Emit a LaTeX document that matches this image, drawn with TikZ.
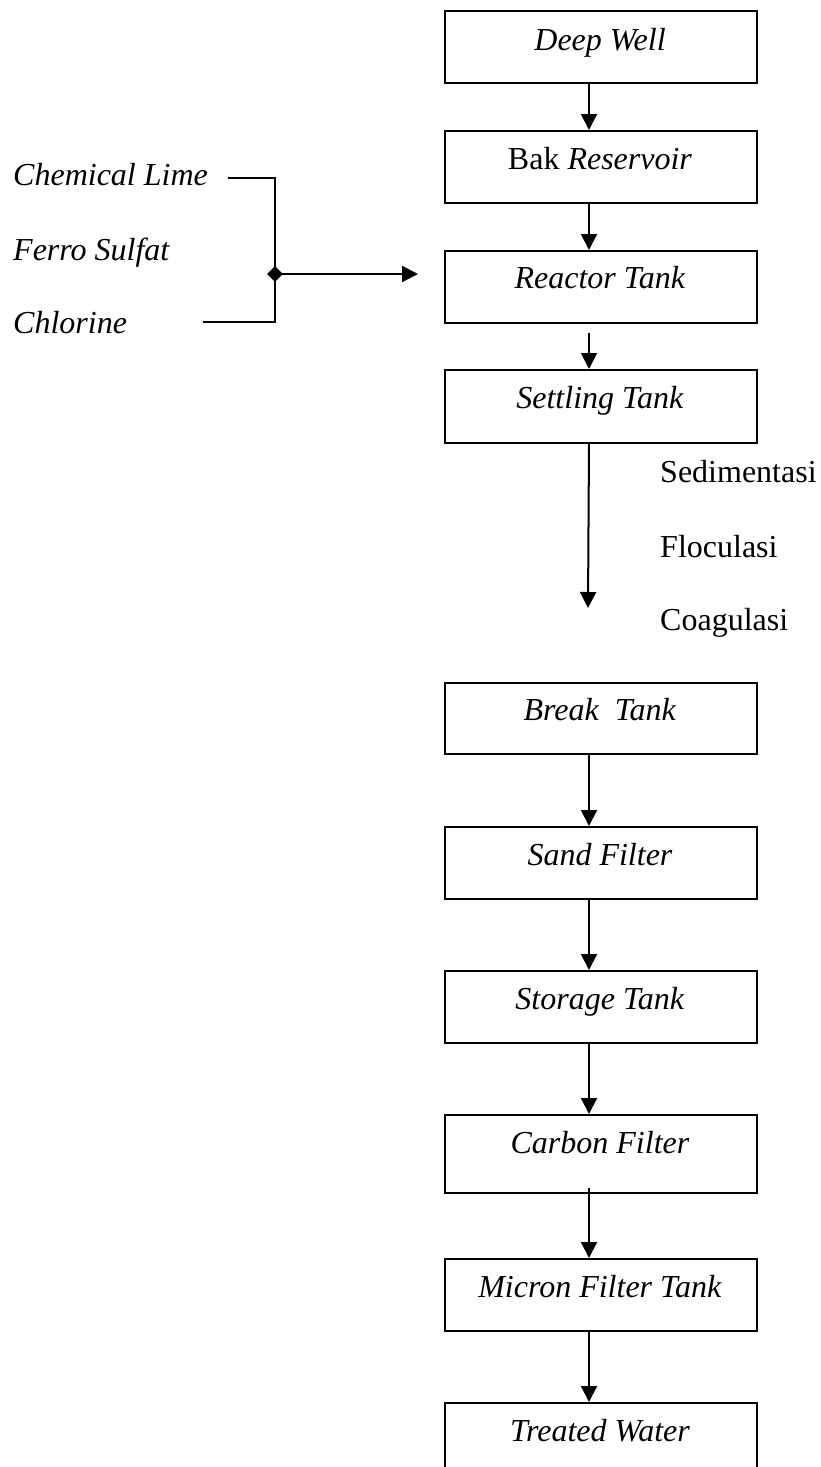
\documentclass[tikz,border=0pt]{standalone}
\usepackage{fontspec}
\setmainfont{Liberation Serif}
\usetikzlibrary{arrows.meta,shapes.geometric}
\begin{document}
\begin{tikzpicture}[x=1pt,y=-1pt,
  every node/.style={font=\fontsize{32}{38}\selectfont},
  unit/.style={draw,line width=2pt,minimum width=312pt,inner sep=0pt,anchor=north west},
  flow/.style={line width=2pt,-{Triangle[width=16pt,length=16pt]}},
  feed/.style={line width=2pt},
  lbl/.style={anchor=base west,inner sep=0pt},
  boxtext/.style={anchor=base,inner sep=0pt}]
\useasboundingbox (0,0) rectangle (821,1467);

% process units (top edge, height)
\node[unit,minimum height=72pt] (dw) at (444,10) {};
\node[unit,minimum height=72pt] (br) at (444,130) {};
\node[unit,minimum height=72pt] (rt) at (444,250) {};
\node[unit,minimum height=73pt] (st) at (444,369) {};
\node[unit,minimum height=71pt] (bt) at (444,682) {};
\node[unit,minimum height=72pt] (sf) at (444,826) {};
\node[unit,minimum height=72pt] (sg) at (444,970) {};
\node[unit,minimum height=78pt] (cf) at (444,1114) {};
\node[unit,minimum height=72pt] (mf) at (444,1258) {};
\node[unit,minimum height=72pt] (tw) at (444,1402) {};

% unit labels
\node[boxtext] (tdw) at (600,50) {\textit{Deep Well}};
\node[boxtext] (tbr) at (600,169) {Bak \textit{Reservoir}};
\node[boxtext] (trt) at (600,288) {\textit{Reactor Tank}};
\node[boxtext] (tst) at (600,408) {\textit{Settling Tank}};
\node[boxtext] (tbt) at (600,720) {\textit{Break\ \ Tank}};
\node[boxtext] (tsf) at (600,865) {\textit{Sand Filter}};
\node[boxtext] (tsg) at (600,1009) {\textit{Storage Tank}};
\node[boxtext] (tcf) at (600,1153) {\textit{Carbon Filter}};
\node[boxtext] (tmf) at (600,1297) {\textit{Micron Filter Tank}};
\node[boxtext] (ttw) at (600,1441) {\textit{Treated Water}};

% main flow line
\draw[flow] ([xshift=-12pt]dw.south) -- ([xshift=-12pt]br.north);
\draw[flow] ([xshift=-12pt]br.south) -- ([xshift=-12pt]rt.north);
\draw[flow] ([shift={(-12pt,-9pt)}]rt.south) -- ([xshift=-12pt]st.north);
\coordinate (stout) at (588,608);
\draw[flow] ([xshift=-12pt]st.south) -- (stout);
\draw[flow] ([xshift=-12pt]bt.south) -- ([xshift=-12pt]sf.north);
\draw[flow] ([xshift=-12pt]sf.south) -- ([xshift=-12pt]sg.north);
\draw[flow] ([xshift=-12pt]sg.south) -- ([xshift=-12pt]cf.north);
\draw[flow] ([shift={(-12pt,6pt)}]cf.south) -- ([xshift=-12pt]mf.north);
\draw[flow] ([xshift=-12pt]mf.south) -- ([xshift=-12pt]tw.north);

% settling stages
\node[lbl] (sed) at (660,482) {Sedimentasi};
\node[lbl] (flo) at (660,557) {Floculasi};
\node[lbl] (coa) at (660,630) {Coagulasi};

% chemical dosing
\node[lbl] (lime) at (13,185) {\textit{Chemical Lime}};
\node[lbl] (fes) at (13,260) {\textit{Ferro Sulfat}};
\node[lbl] (chl) at (13,333) {\textit{Chlorine}};
\coordinate (limein) at (228,178);
\coordinate (chlin) at (203,322);
\node[diamond,fill,inner sep=0pt,minimum width=16pt,minimum height=16pt] (jn) at (275,274) {};
\coordinate (dose) at (418,274);
\draw[feed] (limein) -| (jn.center);
\draw[feed] (chlin) -| (jn.center);
\draw[flow] (jn.center) -- (dose);
\end{tikzpicture}
\end{document}
